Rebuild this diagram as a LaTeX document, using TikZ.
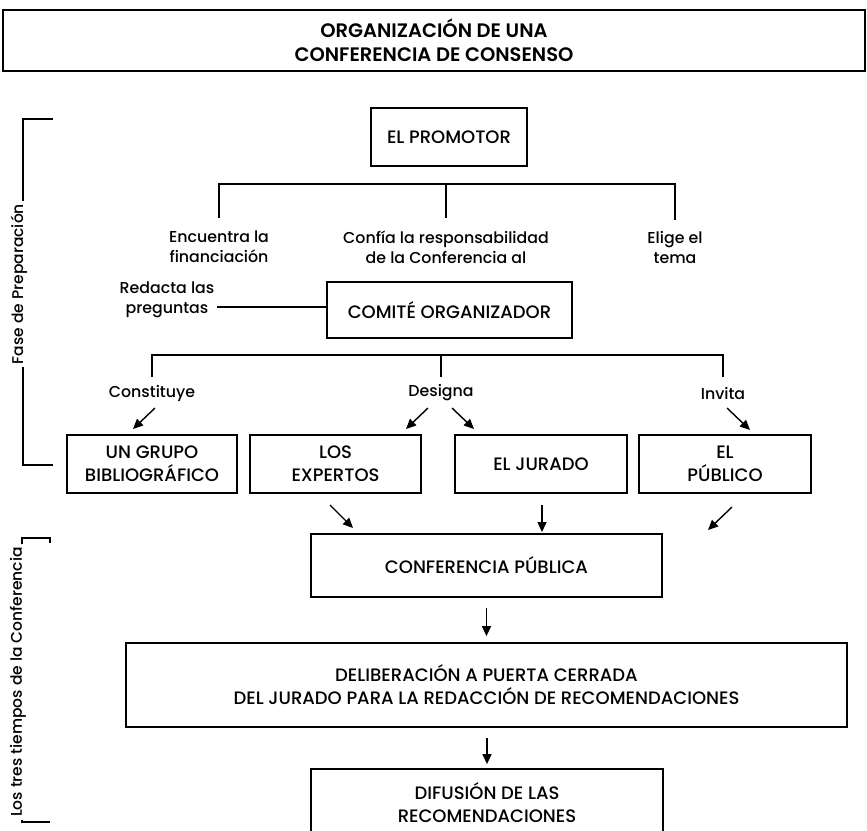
\documentclass[tikz,border=0pt]{standalone}
\usepackage{fontspec}
\setmainfont{Poppins}[UprightFont=* Medium, BoldFont=* SemiBold]
\usetikzlibrary{arrows.meta}
\begin{document}
\begin{tikzpicture}[x=1pt,y=-1pt,
  box/.style={draw, line width=1.8pt, align=center, font=\fontsize{18}{23}\selectfont, inner sep=0pt},
  lbl/.style={align=center, font=\fontsize{15.8}{20}\selectfont, inner sep=0pt},
  side/.style={rotate=90, fill=white, inner sep=3pt, font=\fontsize{15.5}{18}\selectfont},
  tree/.style={line width=1.4pt},
  arr/.style={line width=1.4pt, -{Triangle[length=10pt,width=9pt]}},
]
\useasboundingbox (0,0) rectangle (867,830);
\begin{scope}
\clip (0,0) rectangle (867,830);
% title
\node[box, minimum width=862pt, minimum height=61pt, font=\bfseries\fontsize{19.5}{24}\selectfont] (title) at (434,40.5) {ORGANIZACIÓN DE UNA\\CONFERENCIA DE CONSENSO};
% boxes
\node[box, minimum width=156pt, minimum height=58pt] (promotor) at (449,137) {EL PROMOTOR};
\node[box, minimum width=245pt, minimum height=56pt] (comite) at (449.5,310) {COMITÉ ORGANIZADOR};
\node[box, minimum width=170pt, minimum height=58pt] (grupo) at (152,464) {UN GRUPO\\BIBLIOGRÁFICO};
\node[box, minimum width=171pt, minimum height=58pt] (expertos) at (335.5,464) {LOS\\EXPERTOS};
\node[box, minimum width=172pt, minimum height=58pt] (jurado) at (541,464) {EL JURADO};
\node[box, minimum width=172pt, minimum height=58pt] (publico) at (725,464) {EL\\PÚBLICO};
\node[box, minimum width=351pt, minimum height=63pt] (confpub) at (486.5,565.5) {CONFERENCIA PÚBLICA};
\node[box, minimum width=721pt, minimum height=84pt] (delib) at (486.5,685) {DELIBERACIÓN A PUERTA CERRADA\\DEL JURADO PARA LA REDACCIÓN DE RECOMENDACIONES};
\node[box, draw=none, minimum width=350pt, minimum height=66pt] (difusion) at (487,803) {DIFUSIÓN DE LAS\\RECOMENDACIONES};
\draw[line width=1.8pt] ([yshift=-10pt]difusion.south west) -- (difusion.north west) -- (difusion.north east) -- ([yshift=-10pt]difusion.south east);
% labels
\node[lbl] (financ) at (219,247) {Encuentra la\\financiación};
\node[lbl] (confia) at (446,247) {Confía la responsabilidad\\de la Conferencia al};
\node[lbl] (elige) at (675,247) {Elige el\\tema};
\node[lbl] (redacta) at (167,300) {Redacta las\\preguntas};
\node[lbl] (constituye) at (152,393) {Constituye};
\node[lbl] (designa) at (441,393) {Designa};
\node[lbl] (invita) at (723,393) {Invita};
% first tree
\coordinate (t1) at (445,184);
\draw[tree] ([shift={(0,-29)}]financ.center) |- (t1) -| ([shift={(0,-27)}]elige.center);
\draw[tree] ([shift={(0,-29)}]confia.center) -- (confia.center |- t1);
% redacta
\draw[tree] ([shift={(50,7)}]redacta.center) -- ([shift={(0,-3)}]comite.west);
% second tree
\coordinate (t2) at (441,355);
\draw[tree] ([shift={(0,-16)}]constituye.center) |- (t2) -| ([shift={(0,-16)}]invita.center);
\draw[tree] ([shift={(0,-16)}]designa.center) -- (designa.center |- t2);
% arrows to row of boxes
\draw[arr] ([shift={(3,15)}]constituye.center) -- ([shift={(-19,-35)}]grupo.center);
\draw[arr] ([shift={(-13,15)}]designa.center) -- ([shift={(70.5,-35)}]expertos.center);
\draw[arr] ([shift={(11,15)}]designa.center) -- ([shift={(-67,-35)}]jurado.center);
\draw[arr] ([shift={(4,15)}]invita.center) -- ([shift={(25,-34)}]publico.center);
% arrows to conference
\draw[arr] ([shift={(-5.5,41)}]expertos.center) -- ([shift={(-133.5,-37.5)}]confpub.center);
\draw[arr] ([shift={(1,41)}]jurado.center) -- ([shift={(55.5,-33.5)}]confpub.center);
\draw[arr] ([shift={(7,43)}]publico.center) -- ([shift={(221.5,-35.5)}]confpub.center);
\draw[arr, shorten <=10pt, shorten >=6pt] (confpub.south) -- (confpub.south |- delib.north);
\draw[arr, shorten <=10pt, shorten >=5pt] (difusion.north |- delib.south) -- (difusion.north);
% side brackets
\coordinate (fa) at (53,119);
\coordinate (fb) at (53,465);
\draw[tree] (fa) -- (23,119) -- (23,465) -- (fb);
\node[side] (fase) at (19,284) {Fase de Preparación};
\coordinate (la) at (50,543);
\coordinate (lb) at (50,822);
\draw[tree] (la) -- (50,538) -- (22,538) -- (22,822) -- (lb);
\node[side] (tiempos) at (18,682) {Los tres tiempos de la Conferencia};
\end{scope}
\end{tikzpicture}
\end{document}
